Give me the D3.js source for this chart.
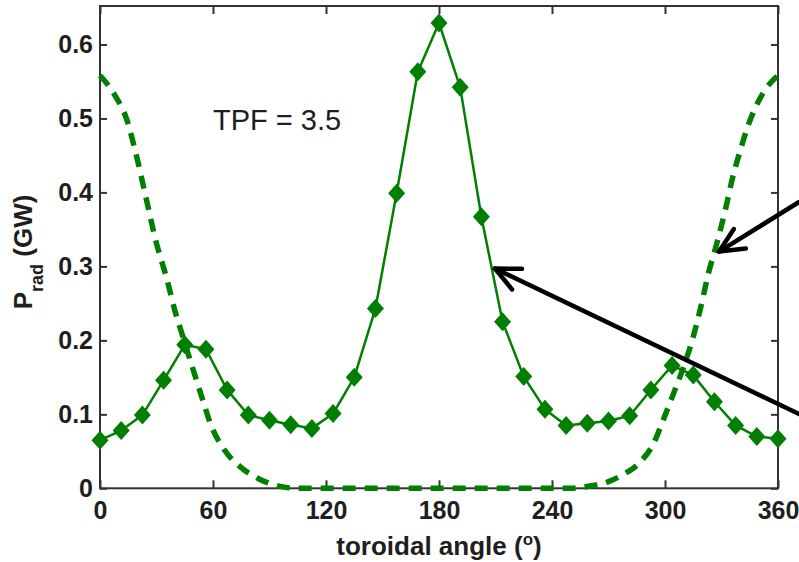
<!DOCTYPE html>
<html>
<head>
<meta charset="utf-8">
<script src="https://cdn.jsdelivr.net/npm/d3@7"></script>
<style>
  html, body { margin: 0; padding: 0; background: #fff; }
  svg { display: block; font-family: Arial, "Liberation Sans", sans-serif; }
</style>
</head>
<body>
<svg id="chart" width="799" height="562"></svg>
<script>
// Toroidal angle of each sample (degrees) and radiated power (GW)
const angles = [0, 11.25, 22.5, 33.75, 45, 56.25, 67.5, 78.75, 90, 101.25, 112.5,
  123.75, 135, 146.25, 157.5, 168.75, 180, 191.25, 202.5, 213.75, 225, 236.25,
  247.5, 258.75, 270, 281.25, 292.5, 303.75, 315, 326.25, 337.5, 348.75, 360];
const prad = [0.065, 0.078, 0.099, 0.146, 0.194, 0.188, 0.133, 0.099, 0.092, 0.086, 0.081,
  0.101, 0.150, 0.243, 0.399, 0.563, 0.629, 0.542, 0.367, 0.225, 0.151, 0.107,
  0.085, 0.088, 0.091, 0.098, 0.133, 0.166, 0.153, 0.117, 0.085, 0.070, 0.067];

// Injected-source profile (dashed curve)
const sourceAngles = [0, 8, 14, 19.5, 24.5, 30, 35.5, 40, 44, 49, 54, 59, 66, 75, 85, 95, 105,
  250, 260, 270, 278, 287, 294, 299, 304.5, 310, 315, 319, 323, 327.5, 332, 336, 340,
  344.5, 349, 355, 360];
const sourceValues = [0.558, 0.531, 0.500, 0.448, 0.392, 0.331, 0.283, 0.238, 0.205, 0.164,
  0.124, 0.085, 0.052, 0.028, 0.012, 0.003, 0, 0, 0.003, 0.009, 0.019, 0.036, 0.061, 0.092,
  0.128, 0.165, 0.205, 0.245, 0.290, 0.331, 0.376, 0.421, 0.457, 0.493, 0.520, 0.545, 0.558];

// Axis ticks
const xTicks = [0, 60, 120, 180, 240, 300, 360];
const yTicks = [0, 0.1, 0.2, 0.3, 0.4, 0.5, 0.6];
const yTickLabels = ["0", "0.1", "0.2", "0.3", "0.4", "0.5", "0.6"];

// Annotation arrows: [angle, power] of each tail and tip
const arrowTails = [[371.2, 0.387], [371.2, 0.1004]];
const arrowTips = [[328.7, 0.320], [209.7, 0.297]];

const svg = d3.select("#chart");
const plotLeft = 100, plotRight = 778, plotTop = 6, plotBottom = 488.3;

const x = d3.scaleLinear().domain([0, 360]).range([plotLeft, plotRight]);
const y = d3.scaleLinear().domain([0, 0.652]).range([plotBottom, plotTop]);

const green = "#007f00";
const ink = "#1e1e1e";

// Frame
svg.append("rect")
  .attr("x", plotLeft).attr("y", plotTop)
  .attr("width", plotRight - plotLeft).attr("height", plotBottom - plotTop)
  .attr("fill", "none").attr("stroke", "#333").attr("stroke-width", 2);

function styleAxis(g, showText) {
  g.select(".domain").remove();
  g.selectAll(".tick line").attr("stroke", "#333").attr("stroke-width", 2);
  g.selectAll(".tick text")
    .attr("fill", ink)
    .style("font-size", "25px")
    .style("font-weight", "bold")
    .style("display", showText ? null : "none");
}

svg.append("g").attr("transform", `translate(0,${plotBottom})`)
  .call(d3.axisBottom(x).tickValues(xTicks).tickSize(-8).tickPadding(13))
  .call(g => styleAxis(g, true));
svg.append("g").attr("transform", `translate(0,${plotTop})`)
  .call(d3.axisTop(x).tickValues(xTicks).tickSize(-8))
  .call(g => styleAxis(g, false));
svg.append("g").attr("transform", `translate(${plotLeft},0)`)
  .call(d3.axisLeft(y).tickValues(yTicks).tickSize(-7).tickPadding(7)
    .tickFormat((d, i) => yTickLabels[i]))
  .call(g => styleAxis(g, true));
svg.append("g").attr("transform", `translate(${plotRight},0)`)
  .call(d3.axisRight(y).tickValues(yTicks).tickSize(-7))
  .call(g => styleAxis(g, false));

// Dashed source curve
const sourcePts = sourceAngles.map((a, i) => [a, sourceValues[i]]);
svg.append("path")
  .datum(sourcePts)
  .attr("fill", "none")
  .attr("stroke", green)
  .attr("stroke-width", 5.5)
  .attr("stroke-dasharray", "13,9")
  .attr("d", d3.line().x(d => x(d[0])).y(d => y(d[1])).curve(d3.curveMonotoneX));

// Radiated power line with diamond markers
const pts = angles.map((a, i) => [a, prad[i]]);
svg.append("path")
  .datum(pts)
  .attr("fill", "none")
  .attr("stroke", green)
  .attr("stroke-width", 2.5)
  .attr("stroke-linejoin", "round")
  .attr("d", d3.line().x(d => x(d[0])).y(d => y(d[1])));

const hw = 8.5, hh = 9.5;
svg.append("g").selectAll("path")
  .data(pts)
  .join("path")
  .attr("transform", d => `translate(${x(d[0])},${y(d[1])})`)
  .attr("d", `M0,${-hh}L${hw},0L0,${hh}L${-hw},0Z`)
  .attr("fill", green);

// Annotation text
svg.append("text")
  .attr("x", 213).attr("y", 130)
  .attr("fill", ink)
  .style("font-size", "29px")
  .text("TPF = 3.5");

// Annotation arrows
const arrows = svg.append("g")
  .attr("stroke", "#000").attr("stroke-width", 4.5)
  .attr("fill", "none").attr("stroke-linecap", "round").attr("stroke-linejoin", "round");
arrowTips.forEach((tip, i) => {
  const tx = x(tip[0]), ty = y(tip[1]);
  const sx = x(arrowTails[i][0]), sy = y(arrowTails[i][1]);
  const ang = Math.atan2(sy - ty, sx - tx);
  const len = 27, spread = 25 * Math.PI / 180;
  const a1 = [tx + len * Math.cos(ang - spread), ty + len * Math.sin(ang - spread)];
  const a2 = [tx + len * Math.cos(ang + spread), ty + len * Math.sin(ang + spread)];
  arrows.append("path").attr("d", `M${sx},${sy}L${tx},${ty}`);
  arrows.append("path").attr("d", `M${a1[0]},${a1[1]}L${tx},${ty}L${a2[0]},${a2[1]}`);
});

// Axis titles
const xt = svg.append("text")
  .attr("x", (plotLeft + plotRight) / 2).attr("y", 555)
  .attr("text-anchor", "middle")
  .attr("fill", ink)
  .style("font-size", "26px").style("font-weight", "bold");
xt.append("tspan").text("toroidal angle (");
xt.append("tspan").attr("dy", -10).style("font-size", "17px").text("o");
xt.append("tspan").attr("dy", 10).text(")");

const yt = svg.append("text")
  .attr("transform", "translate(32,252) rotate(-90)")
  .attr("text-anchor", "middle")
  .attr("fill", ink)
  .style("font-size", "26px").style("font-weight", "bold");
yt.append("tspan").text("P");
yt.append("tspan").attr("dy", 11).style("font-size", "18px").text("rad");
yt.append("tspan").attr("dy", -11).text(" (GW)");
</script>
</body>
</html>
